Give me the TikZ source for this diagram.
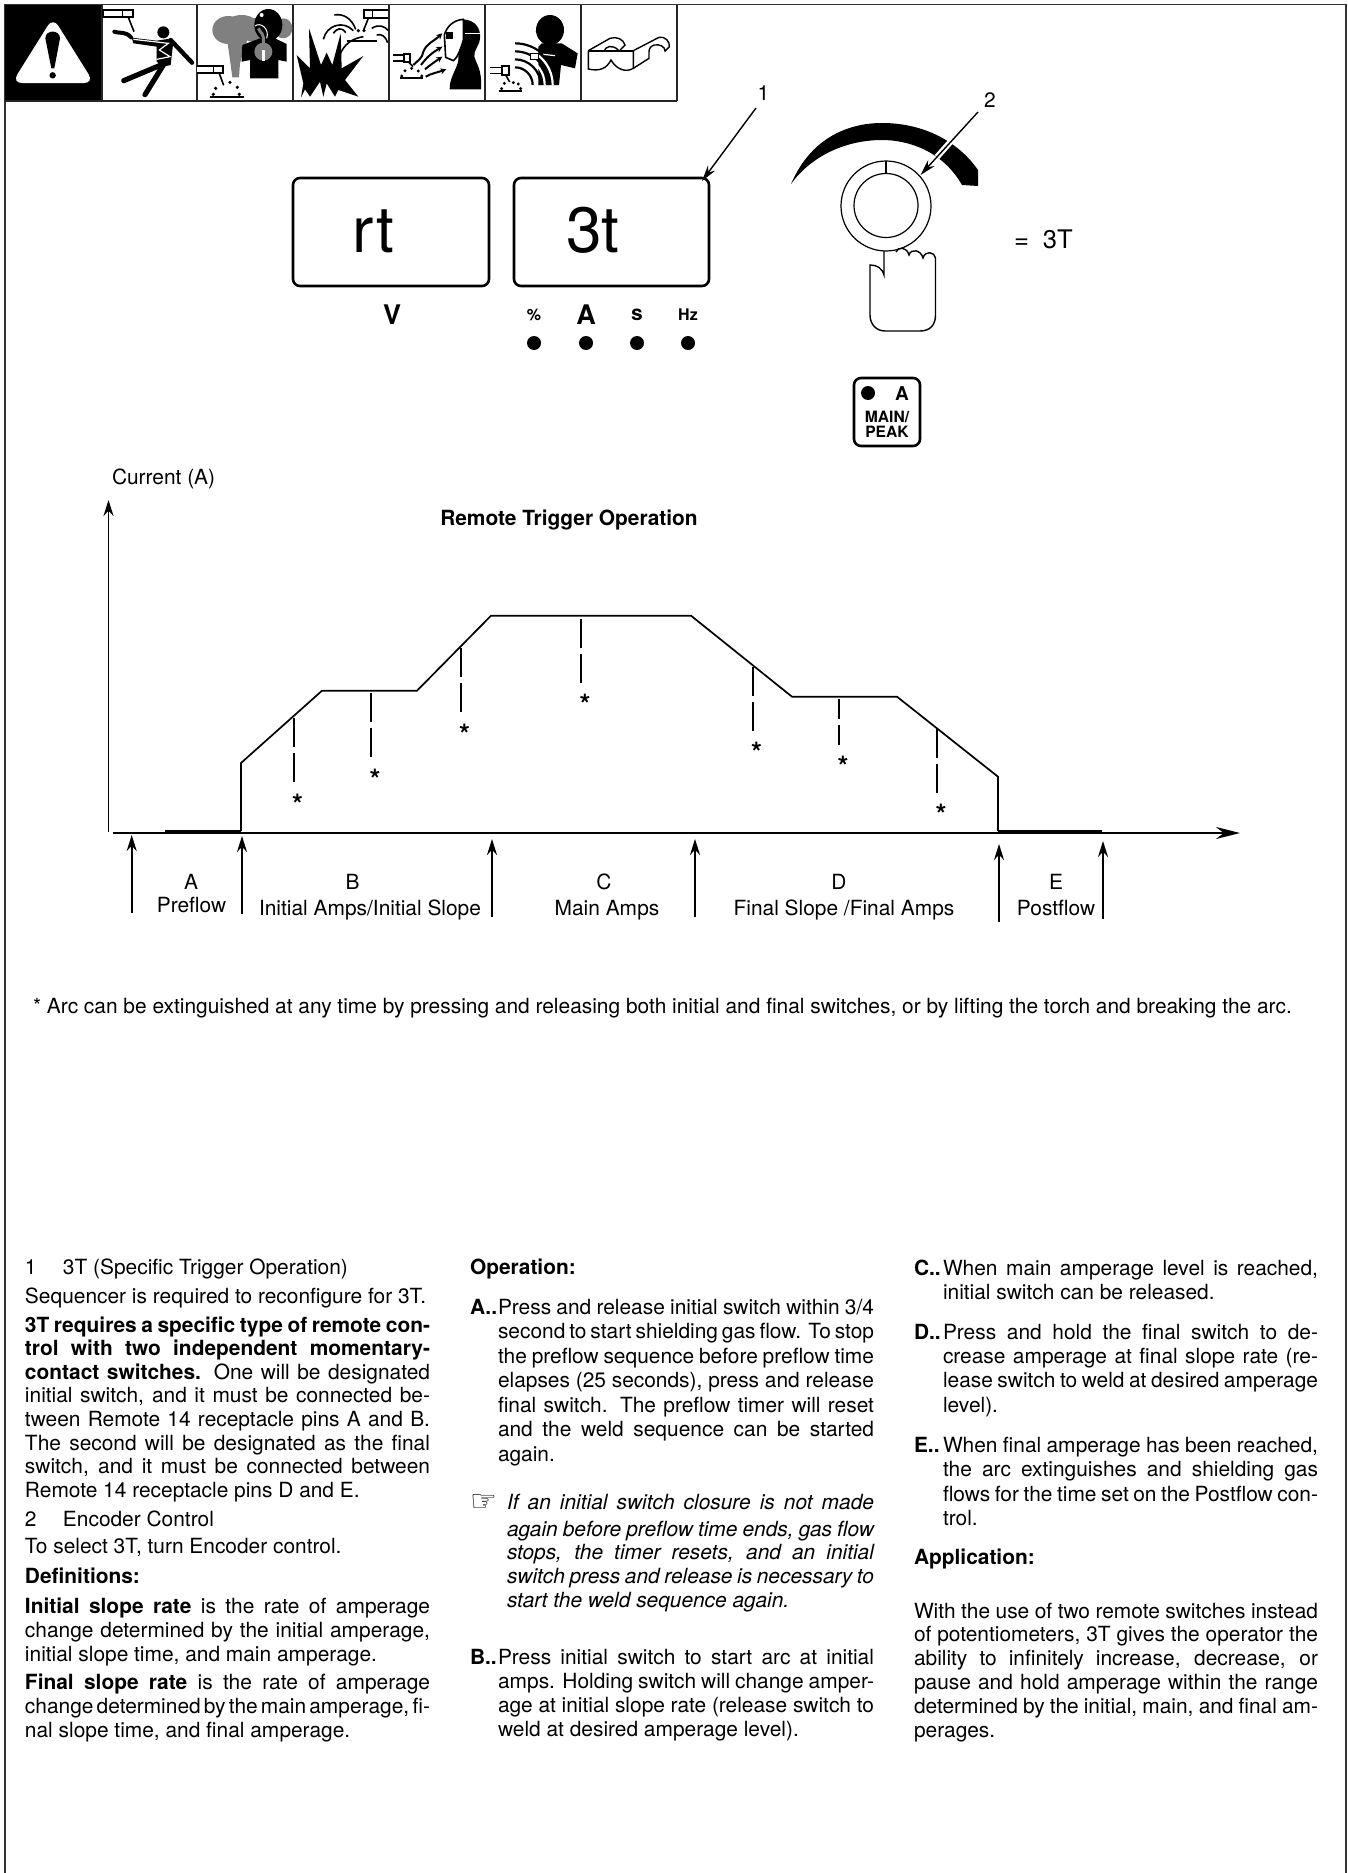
\documentclass[tikz,border=0pt]{standalone}
\usepackage{fontspec}
\setmainfont{TeX Gyre Heros}
\newfontfamily\dejavu{DejaVu Sans}
\usetikzlibrary{arrows.meta}
\newcounter{tn}
\newcommand{\fs}[1]{\fontsize{#1}{#1}\selectfont}
\newcommand{\J}[1]{\makebox[\curW][s]{#1}}
\newcommand{\curW}{100pt}
% para: baseline step (pt), x, first baseline y (px), justify width (pt), lines
\newcommand{\para}[5]{\stepcounter{tn}%
  \node[anchor=north west,inner sep=0pt,outer sep=0pt,align=left,font=\fontsize{10.45}{#1}\selectfont] (p\arabic{tn}) at (#2,{#3-1.4*#1}) {\gdef\curW{#4pt}\strut #5};}
\newcommand{\tl}[3]{\stepcounter{tn}\node[btxt] (t\arabic{tn}) at (#1,#2) {#3};}
\newcommand{\cl}[3]{\stepcounter{tn}\node[ctxt] (c\arabic{tn}) at (#1,#2) {#3};}
\newcommand{\strr}[2]{\stepcounter{tn}\node[ctxt,font=\fontsize{14}{14}\selectfont\bfseries] (s\arabic{tn}) at (#1,{#2+15}) {*};}
\tikzset{
  btxt/.style={anchor=base west,inner sep=0pt,outer sep=0pt,font=\fontsize{10.45}{12}\selectfont},
  ctxt/.style={anchor=base,inner sep=0pt,outer sep=0pt,font=\fontsize{10.45}{12}\selectfont},
  curve/.style={line width=0.85pt,line join=miter},
  dashln/.style={line width=0.55pt,dash pattern=on 14.6pt off 3pt},
  dashsh/.style={line width=0.55pt,dash pattern=on 10pt off 3pt},
  uparrow/.style={line width=1pt,-{Stealth[length=8pt,width=5pt]}},
  leader/.style={line width=0.7pt,-{Stealth[length=8pt,width=4.4pt]}},
  display/.style={line width=1.3pt,rounded corners=3.5pt},
  cellrule/.style={line width=1pt,black!85},
  border/.style={line width=0.8pt,black!80},
  gas/.style={fill=black!50,draw=none},
  ico/.style={line width=0.5pt},
}
\begin{document}
\begin{tikzpicture}[x=0.5pt,y=-0.5pt]
\useasboundingbox (0,0) rectangle (1348,1873);
% page frame
\draw[border] (5,1873) -- (5,4.5) -- (1346,4.5) -- (1346,1873);
% ---- icon strip
\fill[black] (4.5,5) rectangle (102,101.5);
\foreach \xx in {102,197,293,389,485,581,677} \draw[cellrule] (\xx,5) -- (\xx,101.5);
\draw[cellrule] (4.5,101.5) -- (677,101.5);
% icon 1
\begin{scope}[x=0.16667pt,y=-0.16667pt]
\fill[white,rounded corners=5pt] (159,52) -- (36,249) -- (282,249) -- cycle;
\fill[black] (136,115) .. controls (136,88) and (180,88) .. (180,115) -- (163,205) -- (154,205) -- cycle;
\fill[black] (158,226) circle (1.6pt);
% icon 2
\draw[line width=1pt,fill=white] (310,29) rectangle (400,52);
\draw[line width=0.8pt] (367,29) -- (367,52);
\draw[line width=0.8pt] (385,52) -- (402,95);
\draw[line width=2pt,line cap=round] (343,95) .. controls (360,102) and (375,92) .. (393,112);
\fill[black] (490,97) circle (3pt);
\fill[black] (395,113) -- (470,122) -- (510,116) -- (520,125) -- (512,195) -- (490,200) -- (470,185) -- (470,140) -- (400,130) -- cycle;
\draw[line width=2.2pt,line cap=round] (512,120) -- (576,188);
\draw[line width=2.6pt,line cap=round] (495,190) -- (371,242);
\draw[line width=2.6pt,line cap=round] (490,195) -- (435,284);
\draw[white,line width=0.6pt] (400,118) -- (505,130) -- (478,150) -- (510,170) -- (470,178);
\end{scope}
% icon 3
\begin{scope}[shift={(195,0)},x=0.16667pt,y=-0.16667pt]
\fill[gas] (100,90) ellipse (8pt and 7pt);
\fill[gas] (140,75) ellipse (8pt and 5pt);
\fill[gas] (265,85) ellipse (4.5pt and 5pt);
\fill[gas] (180,90) ellipse (8pt and 6pt);
\fill[gas] (95,110) -- (160,110) -- (135,190) -- (132,232) -- (112,232) -- (105,180) -- cycle;
\fill[black] (220,75) ellipse (7pt and 8pt);
\fill[black] (195,115) -- (240,115) -- (275,132) -- (275,185) -- (250,180) -- (250,235) -- (165,235) -- (165,180) -- (140,185) -- (142,135) -- cycle;
\fill[gas] (205,155) ellipse (4.5pt and 4.5pt);
\draw[black!50,line width=1.5pt] (190,85) .. controls (195,100) and (208,95) .. (205,130);
\fill[white] (200,45) circle (1pt);
\fill[white] (202,150) rectangle (209,182);
\draw[white,line width=0.5pt] (180,78) .. controls (195,65) and (225,85) .. (215,115);
\draw[line width=1pt,fill=white] (6,198) -- (85,198) -- (85,218) -- (6,218);
\draw[line width=0.7pt] (55,198) -- (55,218);
\draw[line width=0.8pt] (72,218) -- (86,256);
\foreach \a/\b in {62/265,105/247,127/262,55/283,133/283} \fill (\a,\b) circle (0.9pt);
\draw[line width=0.9pt] (45,291) -- (148,291);
% icon 4
\fill[black] (318,292) -- (325,250) -- (305,165) -- (345,205) -- (342,85) -- (378,195) -- (395,158) -- (412,195) -- (437,100) -- (440,205) -- (505,168) -- (450,240) -- (490,290) -- (430,270) -- (420,290) -- (395,250) -- (385,290) -- (375,245) -- (345,290) -- (330,268) -- cycle;
\draw[line width=0.8pt] (385,118) .. controls (395,75) and (445,60) .. (475,92);
\draw[line width=0.8pt] (418,45) .. controls (445,40) and (470,55) .. (482,88);
\draw[line width=0.8pt] (415,100) .. controls (425,85) and (440,80) .. (452,98);
\draw[line width=0.8pt] (432,172) .. controls (445,130) and (475,115) .. (505,110);
\draw[line width=0.8pt] (455,123) -- (545,123);
\draw[line width=0.8pt] (530,85) .. controls (550,72) and (570,78) .. (580,92);
\draw[line width=0.8pt] (545,105) .. controls (560,100) and (572,110) .. (578,128);
\draw[line width=1pt,fill=white] (578,30) -- (507,30) -- (507,55) -- (578,55);
\draw[line width=0.7pt] (532,30) -- (532,55);
\draw[line width=0.8pt] (520,55) -- (506,90);
\fill (507,92) circle (0.9pt);
\fill (490,92) circle (0.9pt);
\end{scope}
% icon 5
\begin{scope}[shift={(385,0)},x=0.16667pt,y=-0.16667pt]
\draw[line width=0.8pt] (25,165) -- (57,165);
\draw[line width=0.8pt] (25,183) -- (57,183);
\draw[line width=1pt,fill=white] (57,161) rectangle (76,185);
\draw[line width=0.8pt] (70,185) -- (84,200);
\foreach \a/\b in {60/212,80/205,100/213,50/228,110/228} \fill (\a,\b) circle (0.8pt);
\draw[line width=0.9pt] (45,235) -- (115,235);
\fill[black] (235,58) .. controls (270,60) and (288,85) .. (285,115) .. controls (283,140) and (265,150) .. (268,170) .. controls (272,190) and (292,205) .. (288,268) -- (194,268) .. controls (192,230) and (225,195) .. (220,170) -- cycle;
\draw[white,line width=0.7pt] (240,101) -- (285,101);
\draw[line width=0.8pt,fill=white] (178,105) .. controls (185,80) and (205,60) .. (235,58) -- (235,120) .. controls (225,155) and (215,175) .. (205,182) -- (182,172) -- cycle;
\fill[black] (183,95) rectangle (203,118);
\draw[line width=1pt,-{Stealth[length=3pt,width=3pt]}] (85,195) .. controls (100,180) and (112,175) .. (115,155) .. controls (125,130) and (145,125) .. (172,100);
\draw[line width=1pt,-{Stealth[length=3pt,width=3pt]}] (108,195) .. controls (120,180) and (130,165) .. (172,140);
\draw[line width=1pt,-{Stealth[length=3pt,width=3pt]}] (120,208) .. controls (135,195) and (150,185) .. (172,170);
\draw[line width=1pt,-{Stealth[length=3pt,width=3pt]}] (122,230) .. controls (140,220) and (155,218) .. (184,208);
% icon 6
\fill[black] (495,90) ellipse (7pt and 7.5pt);
\fill[black] (462,75) -- (452,95) -- (465,105) -- cycle;
\fill[black] (460,140) -- (470,130) -- (530,130) -- (578,160) -- (570,205) -- (528,195) -- (522,255) -- (460,255) -- cycle;
\foreach \r in {125,113,101,89,77,65,53} {
  \pgfmathsetmacro{\kx}{390+0.55*\r}
  \pgfmathsetmacro{\ky}{255-0.55*\r}
  \pgfmathsetmacro{\rx}{390+\r}
  \pgfmathsetmacro{\ry}{255-\r}
  \ifnum\r=125\relax\def\sc{black}\else\ifnum\r=101\relax\def\sc{black}\else\ifnum\r=77\relax\def\sc{black}\else\ifnum\r=53\relax\def\sc{black}\else\def\sc{white}\fi\fi\fi\fi
  \draw[\sc,line width=1.1pt] (390,\ry) .. controls (\kx,\ry) and (\rx,\ky) .. (\rx,255);
}
\draw[line width=0.8pt] (315,203) -- (352,203);
\draw[line width=0.8pt] (315,220) -- (352,220);
\draw[line width=1pt,fill=white] (352,199) rectangle (372,225);
\draw[line width=0.8pt] (362,225) -- (374,246);
\foreach \a/\b in {358/250,385/248,400/252,350/266,407/266} \fill (\a,\b) circle (0.8pt);
\draw[line width=0.9pt] (342,272) -- (412,272);
\fill[white] (435,160) rectangle (460,177);
\draw[line width=0.5pt] (435,160) rectangle (460,177);
\draw[white,line width=0.6pt] (475,163) -- (510,167);
\end{scope}
% icon 7
\begin{scope}[shift={(575,0)},x=0.16667pt,y=-0.16667pt]
\draw[line width=1pt] (40,152) -- (175,152);
\draw[line width=0.7pt] (40,152) -- (40,207) .. controls (75,215) and (95,205) .. (108,180) .. controls (122,205) and (150,220) .. (175,205) -- (175,152);
\draw[line width=0.7pt] (175,152) -- (252,112) .. controls (270,108) and (285,125) .. (283,140) -- (270,153) .. controls (270,140) and (255,132) .. (238,135) .. controls (228,138) and (222,145) .. (222,155) -- (222,175) -- (175,205);
\draw[line width=0.7pt] (40,152) -- (105,115) .. controls (125,108) and (145,118) .. (150,135) -- (135,150);
\draw[line width=0.7pt] (88,152) .. controls (92,140) and (110,132) .. (130,150);
\end{scope}
% ---- displays
\draw[display] (293,178) rectangle (489,286);
\draw[display] (514,178) rectangle (709,286);
\node[ctxt,font=\fontsize{32}{32}\selectfont] (rt) at (373.5,252) {rt};
\node[ctxt,font=\fontsize{32}{32}\selectfont] (threet) at (593,252) {3t};
\node[ctxt,font=\fontsize{13.5}{14}\selectfont\bfseries] (vv) at (392,324) {V};
\node[ctxt,font=\fontsize{8}{9}\selectfont\bfseries] (pc) at (534,320) {\%};
\node[ctxt,font=\fontsize{13.5}{14}\selectfont\bfseries] (aa) at (586,324) {A};
\node[ctxt,font=\fontsize{10.5}{11}\selectfont\bfseries] (ss) at (637,320) {s};
\node[ctxt,font=\fontsize{8}{9}\selectfont\bfseries] (hz) at (688,320) {Hz};
\foreach \xx in {534,586,637,688} \fill (\xx,343) circle (3.5pt);
% ---- dial
\begin{scope}[shift={(-3,0)}]
\fill[black] (794,184) .. controls (815,135) and (855,123) .. (885,123) .. controls (925,123) and (960,140) .. (981,170) -- (981,186) -- (965,185) .. controls (945,150) and (910,140) .. (885,140) .. controls (850,140) and (815,155) .. (794,184) -- cycle;
\draw[line width=0.6pt] (889,206) circle (22.5pt);
\draw[line width=0.6pt] (889,205.5) circle (16pt);
\draw[line width=0.6pt] (889,161) -- (889,173);
\draw[line width=0.7pt] (887,251) -- (887,275) .. controls (885,268) and (880,265) .. (873,265) -- (873,315) .. controls (873,325) and (880,331) .. (888,331) -- (923,331) .. controls (933,331) and (938.5,325) .. (938.5,315) -- (938.5,258) .. controls (938,252) and (928,250) .. (926,258) .. controls (924,250) and (914,248) .. (912,255) .. controls (910,247) and (901,246) .. (899,252);
\end{scope}
% leaders
\node[ctxt] (n1) at (763.5,101) {1};
\node[ctxt] (n2) at (990,108) {2};
\coordinate (l1a) at (756,108);
\coordinate (l1b) at (702,181);
\coordinate (l2a) at (978,112);
\coordinate (l2b) at (920.5,175);
\draw[leader] (l1a) -- (l1b);
\draw[white,line width=3pt] (953,139) -- (937,157);
\draw[leader] (l2a) -- (l2b);
\node[btxt,font=\fontsize{12.8}{13}\selectfont] (eq) at (1014,248) {=\hspace{7pt}3T};
% ---- button
\begin{scope}[shift={(-3,0)}]
\draw[display] (857,378) rectangle (923,446);
\fill (871,393) circle (3.5pt);
\node[ctxt,font=\fontsize{9.5}{10}\selectfont\bfseries] (ba) at (905,400) {A};
\node[ctxt,font=\fontsize{7.8}{8}\selectfont\bfseries] (bm) at (890,422) {MAIN/};
\node[ctxt,font=\fontsize{7.8}{8}\selectfont\bfseries] (bp) at (890,437) {PEAK};
\end{scope}
% ---- graph
\tl{112}{484}{Current (A)}
\cl{569}{525}{\textbf{Remote Trigger Operation}}
\coordinate (yo) at (108.5,832);
\coordinate (yt) at (108.5,500);
\coordinate (xo) at (113,833);
\coordinate (xt) at (1240,833);
\draw[line width=0.9pt,-{Stealth[length=8pt,width=5pt]}] (yo) -- (yt);
\draw[line width=1.1pt,-{Stealth[length=12pt,width=6pt]}] (xo) -- (xt);
\draw[line width=1.4pt] (165,831) -- (241,831);
\draw[line width=1.4pt] (998,831) -- (1102,831);
\draw[curve] (241,831) -- (241,763) -- (322,690.7) -- (417,690.7) -- (491,615.7) -- (691,615.7) -- (792,696.7) -- (897,696.7) -- (998,776.7) -- (998,831);
\draw[dashln] (294,718) -- (294,783);  \strr{297.5}{799}
\draw[dashln] (371,693) -- (371,757);  \strr{375}{774}
\draw[dashln] (461,648) -- (461,714);  \strr{464.6}{729}
\draw[dashln] (581,619) -- (581,683);  \strr{585}{699}
\draw[dashln] (753,667) -- (753,732);  \strr{756.5}{747}
\draw[dashsh] (839,699) -- (839,745);  \strr{843}{761}
\draw[dashln] (937,729) -- (937,793);  \strr{941}{809}
\draw[uparrow] (131.7,913) -- (131.7,835);
\draw[uparrow] (242,914) -- (242,836);
\draw[uparrow] (492,917) -- (492,839);
\draw[uparrow] (695,917) -- (695,839);
\draw[uparrow] (999,922) -- (999,844);
\draw[uparrow] (1103,919) -- (1103,841);
\cl{191}{889}{A}
\cl{191.5}{912}{Preflow}
\cl{352.6}{889}{B}
\cl{370}{915}{Initial Amps/Initial Slope}
\cl{604}{889}{C}
\cl{607}{915}{Main Amps}
\cl{839}{889}{D}
\cl{844}{915}{Final Slope /Final Amps}
\cl{1056}{889}{E}
\cl{1056}{915}{Postflow}
\tl{33}{1013}{* Arc can be extinguished at any time by pressing and releasing both initial and final switches, or by lifting the torch and breaking the arc.}
% ---- column 1
\tl{25}{1274}{\makebox[19pt][l]{1}3T (Specific Trigger Operation)}
\tl{25}{1303}{Sequencer is required to reconfigure for 3T.}
\para{11.8}{25}{1332}{202.5}{\J{\textbf{3T requires a specific type of remote con-}}\\
\J{\textbf{trol with two independent momentary-}}\\
\J{\textbf{contact switches.} One will be designated}\\
\J{initial switch, and it must be connected be-}\\
\J{tween Remote 14 receptacle pins A and B.}\\
\J{The second will be designated as the final}\\
\J{switch, and it must be connected between}\\
Remote 14 receptacle pins D and E.}
\tl{25}{1526}{\makebox[19pt][l]{2}Encoder Control}
\tl{25}{1553}{To select 3T, turn Encoder control.}
\tl{25}{1583}{\textbf{Definitions:}}
\para{12}{25}{1613}{202.5}{\J{\textbf{Initial slope rate} is the rate of amperage}\\
\J{change determined by the initial amperage,}\\
initial slope time, and main amperage.}
\para{12}{25}{1689}{202.5}{\J{\textbf{Final slope rate} is the rate of amperage}\\
\J{\spaceskip=2pt plus 1pt minus 0.5pt change determined by the main amperage, fi-}\\
nal slope time, and final amperage.}
% ---- column 2
\tl{470}{1274}{\textbf{Operation:}}
\tl{470}{1314}{\textbf{A..}}
\para{12.25}{498}{1314}{188}{\J{Press and release initial switch within 3/4}\\
\J{second to start shielding gas flow. To stop}\\
\J{the preflow sequence before preflow time}\\
\J{elapses (25 seconds), press and release}\\
\J{final switch. The preflow timer will reset}\\
\J{and the weld sequence can be started}\\
again.}
\node[btxt,font=\fontsize{15}{15}\selectfont\dejavu] (hand) at (470,1511) {☞};
\tl{507}{1509}{\makebox[183.5pt][s]{\itshape If an initial switch closure is not made}}
\para{11.85}{507}{1536}{183.5}{\J{\itshape again before preflow time ends, gas flow}\\
\J{\itshape stops, the timer resets, and an initial}\\
\J{\itshape switch press and release is necessary to}\\
\textit{start the weld sequence again.}}
\tl{470}{1664}{\textbf{B..}}
\para{12.15}{498}{1664}{188}{\J{Press initial switch to start arc at initial}\\
\J{amps. Holding switch will change amper-}\\
\J{age at initial slope rate (release switch to}\\
weld at desired amperage level).}
% ---- column 3
\tl{914}{1275}{\textbf{C..}}
\para{12}{943}{1275}{187.5}{\J{When main amperage level is reached,}\\
initial switch can be released.}
\tl{914}{1339}{\textbf{D..}}
\para{12.2}{943}{1339}{187.5}{\J{Press and hold the final switch to de-}\\
\J{crease amperage at final slope rate  (re-}\\
\J{lease switch to weld at desired amperage}\\
level).}
\tl{914}{1452}{\textbf{E..}}
\para{12.3}{943}{1452}{187.5}{\J{When final amperage has been reached,}\\
\J{the arc extinguishes and shielding gas}\\
\J{flows for the time set on the Postflow con-}\\
trol.}
\tl{914}{1564}{\textbf{Application:}}
\para{11.95}{914}{1618}{202}{\J{With the use of two remote switches instead}\\
\J{of potentiometers, 3T gives the operator the}\\
\J{ability to infinitely increase, decrease, or}\\
\J{pause and hold amperage within the range}\\
\J{determined by the initial, main, and final am-}\\
perages.}
\end{tikzpicture}
\end{document}
